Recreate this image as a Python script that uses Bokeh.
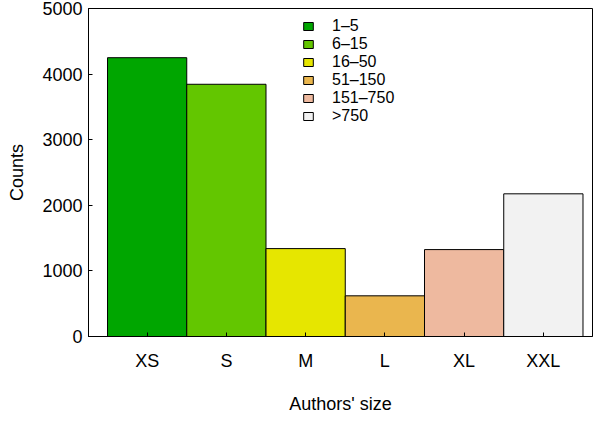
from bokeh.plotting import figure
from bokeh.models import ColumnDataSource, FixedTicker, Range1d, Legend, LegendItem
from bokeh.embed import file_html
from bokeh.resources import INLINE

# Data
categories = ["XS", "S", "M", "L", "XL", "XXL"]
author_ranges = ["1\u20135", "6\u201315", "16\u201350", "51\u2013150", "151\u2013750", ">750"]
counts = [4250, 3845, 1340, 620, 1325, 2175]
colors = ["#00A600", "#63C600", "#E6E600", "#EAB64E", "#EEB99F", "#F2F2F2"]
y_ticks = [0, 1000, 2000, 3000, 4000, 5000]

positions = list(range(1, len(categories) + 1))
source = ColumnDataSource(dict(x=positions, top=counts, color=colors, label=author_ranges))

FONT = "Liberation Sans"

p = figure(width=594, height=416, output_backend="svg", toolbar_location=None,
           x_range=Range1d(0.26, 6.62), y_range=Range1d(0, 5000),
           min_border_left=88, min_border_right=2, min_border_top=8, min_border_bottom=76)

r = p.vbar(x="x", top="top", bottom=0, width=1.0, source=source,
           fill_color="color", line_color="black", line_width=1)

p.grid.visible = False
p.outline_line_color = "black"
p.outline_line_width = 1
p.background_fill_color = "white"
p.border_fill_color = "white"

# x axis
xa = p.xaxis[0]
xa.ticker = FixedTicker(ticks=positions)
xa.major_label_overrides = {pos: cat for pos, cat in zip(positions, categories)}
xa.axis_label = "Authors' size"
xa.axis_line_color = "black"
xa.major_tick_in = 4
xa.major_tick_out = 0
xa.major_tick_line_color = "black"
xa.minor_tick_line_color = None
xa.major_label_standoff = 14
xa.axis_label_standoff = 20
xa.major_label_text_font = FONT
xa.major_label_text_font_size = "18px"
xa.major_label_text_color = "black"
xa.axis_label_text_font = FONT
xa.axis_label_text_font_size = "18px"
xa.axis_label_text_font_style = "normal"
xa.axis_label_text_color = "black"

# y axis
ya = p.yaxis[0]
ya.ticker = FixedTicker(ticks=y_ticks)
ya.axis_label = "Counts"
ya.axis_line_color = "black"
ya.major_tick_in = 4
ya.major_tick_out = 0
ya.major_tick_line_color = "black"
ya.minor_tick_line_color = None
ya.major_label_standoff = 6
ya.axis_label_standoff = 12
ya.major_label_text_font = FONT
ya.major_label_text_font_size = "18px"
ya.major_label_text_color = "black"
ya.axis_label_text_font = FONT
ya.axis_label_text_font_size = "18px"
ya.axis_label_text_font_style = "normal"
ya.axis_label_text_color = "black"

# legend
items = [LegendItem(label=lab, renderers=[r], index=i) for i, lab in enumerate(author_ranges)]
legend = Legend(items=items, location=(214, 211), orientation="vertical",
                padding=0, margin=0, spacing=0,
                glyph_width=12, glyph_height=10, label_height=18, label_standoff=18,
                label_text_font=FONT, label_text_font_size="16px", label_text_color="black",
                border_line_color=None, background_fill_alpha=0)
p.add_layout(legend, "center")

open("out.html", "w").write(file_html(p, INLINE))
